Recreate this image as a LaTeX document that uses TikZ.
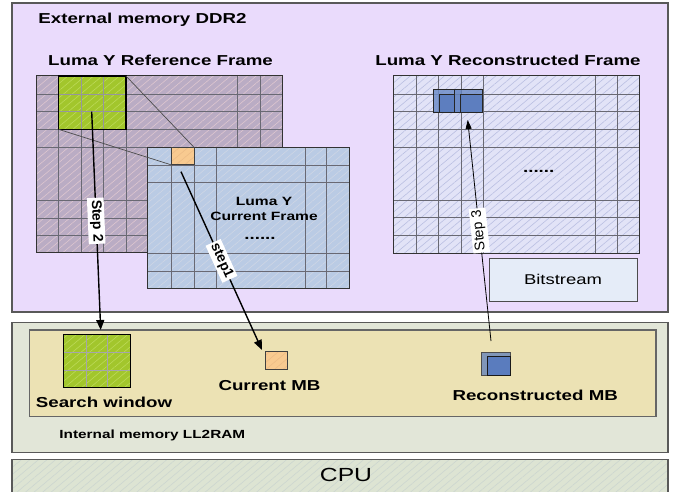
\documentclass[tikz,border=0pt]{standalone}
\usepackage{fontspec}
\setmainfont{Liberation Sans}[FakeStretch=1.3]
\newfontfamily\plainsf{Liberation Sans}
\usetikzlibrary{patterns.meta,arrows.meta}
\definecolor{purplebg}{RGB}{234,219,252}
\definecolor{refc}{RGB}{186,172,196}
\definecolor{refh}{RGB}{222,198,208}
\definecolor{curc}{RGB}{186,203,228}
\definecolor{curh}{RGB}{206,214,228}
\definecolor{recc}{RGB}{226,227,247}
\definecolor{rech}{RGB}{186,191,226}
\definecolor{greenc}{RGB}{162,198,44}
\definecolor{greenh}{RGB}{188,218,88}
\definecolor{orangec}{RGB}{248,202,144}
\definecolor{orangeh}{RGB}{236,188,134}
\definecolor{intc}{RGB}{226,230,216}
\definecolor{tanc}{RGB}{236,226,180}
\definecolor{cpuc}{RGB}{221,228,211}
\definecolor{cpuh}{RGB}{204,214,208}
\definecolor{bitc}{RGB}{229,236,248}
\definecolor{gridc}{RGB}{105,105,115}
\definecolor{iconback}{RGB}{112,142,200}
\definecolor{iconfront}{RGB}{90,124,190}
\definecolor{iconbackb}{RGB}{128,150,184}
\tikzset{
  hatch/.style={pattern={Lines[angle=40,distance=5.5pt,line width=0.6pt]},pattern color=#1},
  gridl/.style={draw=gridc,line width=0.9pt},
  frameb/.style={draw=black!80,line width=1pt},
  boxb/.style={draw=black!65,line width=1.1pt},
  lbl/.style={inner sep=0pt,anchor=base,font=\bfseries\fontsize{14.4}{16}\selectfont},
  steplbl/.style={fill=white,inner sep=2pt,font=\plainsf\bfseries\fontsize{14}{16}\selectfont},
  stepline/.style={line width=1.4pt,-{Triangle[length=10pt,width=8pt]}},
}
\begin{document}
\begin{tikzpicture}[x=1pt,y=-1pt]
\useasboundingbox (0,0) rectangle (681,492);
% external memory
\path[fill=purplebg,boxb] (12,3) rectangle (668,312);
\node[lbl] (ext) at (142.5,23.3) {External memory DDR2};
\node[lbl] (reft) at (160.5,66) {Luma Y Reference Frame};
\node[lbl] (rect) at (508,66) {Luma Y Reconstructed Frame};
% reference frame
\path[preaction={fill=refc},hatch=refh] (36,76) rectangle (282.3,253);
\foreach \x in {58.5,81,103.5,126,237.7,260} \draw[gridl] (\x,76) -- (\x,253);
\foreach \y in {94,111.7,129.3,147,200.7,218.3,235.7} \draw[gridl] (36,\y) -- (282.3,\y);
\draw[frameb] (36,76) rectangle (282.3,253);
% search area in reference frame
\path[preaction={fill=greenc},hatch=greenh] (58.5,76) rectangle (126,129.3);
\foreach \x in {81,103.5} \draw[draw=gridc!70,line width=0.8pt] (\x,76) -- (\x,129.3);
\foreach \y in {94,111.7} \draw[draw=gridc!70,line width=0.8pt] (58.5,\y) -- (126,\y);
\draw[black,line width=1.2pt] (58.5,76) rectangle (126,129.3);
\coordinate (gtr) at (126,76);
\coordinate (gbl) at (58.5,129.3);
% current frame
\path[preaction={fill=curc},hatch=curh] (147.3,147.3) rectangle (349,289);
\foreach \x in {171.7,194,216.3,305.7,326.7} \draw[gridl] (\x,147.3) -- (\x,289);
\foreach \y in {165,182.3,253.3,271.7} \draw[gridl] (147.3,\y) -- (349,\y);
\draw[frameb] (147.3,147.3) rectangle (349,289);
\path[preaction={fill=orangec},hatch=orangeh] (171.7,147.3) rectangle (194,165);
\draw[black!75,line width=1pt] (171.7,147.3) rectangle (194,165);
\coordinate (otr) at (194,147.3);
\coordinate (obl) at (171.7,165);
\draw[black!70,line width=0.7pt] (gtr) -- (otr);
\draw[black!70,line width=0.7pt] (gbl) -- (obl);
\node[lbl,font=\bfseries\fontsize{12}{14}\selectfont] (cur1) at (264,205.3) {Luma Y};
\node[lbl,font=\bfseries\fontsize{12}{14}\selectfont] (cur2) at (264,221) {Current Frame};
\node[lbl] (dots1) at (260,240) {......};
% reconstructed frame
\path[preaction={fill=recc},hatch=rech] (393.3,76) rectangle (639.3,253.3);
\foreach \x in {416,438.3,461,483.3,595,617.3} \draw[gridl] (\x,76) -- (\x,253.3);
\foreach \y in {94,111.7,129.3,147.7,200,217.7,235.7} \draw[gridl] (393.3,\y) -- (639.3,\y);
\draw[frameb] (393.3,76) rectangle (639.3,253.3);
\node[lbl] (dots2) at (538.7,172.3) {......};
\foreach \ix in {433.3,454.3}{
  \fill[iconback,opacity=0.85] (\ix,89.3) rectangle ++(28,23);
  \draw[black!85,line width=0.9pt] (\ix,89.3) rectangle ++(28,23);
  \fill[iconfront,opacity=0.9] (\ix+6,94.3) rectangle (\ix+28,112.3);
  \draw[black!85,line width=0.9pt] (\ix+6,94.3) rectangle (\ix+28,112.3);
}
% bitstream
\path[fill=bitc,draw=black!70,line width=1pt] (489.3,259) rectangle (637.3,301.7);
\node[lbl,font=\fontsize{14.2}{16}\selectfont] (bits) at (563,284.7) {Bitstream};
% internal memory
\path[fill=intc,boxb] (12,322.7) rectangle (668,452.3);
\path[fill=tanc,draw=black!60,line width=1.1pt] (29.3,330) rectangle (656,416.7);
\node[lbl,font=\bfseries\fontsize{11.8}{14}\selectfont] (intt) at (152.3,438.7) {Internal memory LL2RAM};
% search window
\path[preaction={fill=greenc},hatch=greenh] (63.3,334.3) rectangle (130.7,387.3);
\foreach \x in {86,107.7} \draw[draw=gridc!60,line width=0.9pt] (\x,334.3) -- (\x,387.3);
\foreach \y in {352.3,370} \draw[draw=gridc!60,line width=0.9pt] (63.3,\y) -- (130.7,\y);
\draw[black,line width=1.1pt] (63.3,334.3) rectangle (130.7,387.3);
\node[lbl] (sw) at (104,407.7) {Search window};
% current MB
\path[preaction={fill=orangec},hatch=orangeh] (265,351) rectangle (287.7,369);
\draw[black!75,line width=1pt] (265,351) rectangle (287.7,369);
\node[lbl] (cmb) at (269.5,390) {Current MB};
% reconstructed MB
\path[fill=iconbackb,draw=black!70,line width=0.9pt] (481.7,352.3) rectangle (510.7,375.7);
\path[fill=iconfront,draw=black!90,line width=1.1pt] (487.3,356.7) rectangle (510.7,375.7);
\node[lbl] (rmb) at (535.2,400.7) {Reconstructed MB};
% CPU
\path[preaction={fill=cpuc},hatch=cpuh,boxb] (12,459.3) rectangle (668,496);
\node[lbl,font=\fontsize{19}{21}\selectfont] (cpu) at (346,481) {CPU};
% arrows
\coordinate (s2a) at (91.7,111.7);
\coordinate (s2b) at (100.7,330);
\coordinate (s1a) at (181,171.7);
\coordinate (s1b) at (262,350);
\coordinate (s3a) at (491,341);
\coordinate (s3b) at (467.7,120);
\draw[stepline] (s2a) -- node[steplbl,rotate=-87.6] (st2) {Step 2} (s2b);
\draw[stepline] (s1a) -- node[steplbl,rotate=-65.6] (st1) {step1} (s1b);
\draw[line width=0.8pt,-{Triangle[length=9pt,width=6pt]}] (s3a) -- node[steplbl,font=\plainsf\fontsize{14}{16}\selectfont,rotate=96] (st3) {Step 3} (s3b);
\end{tikzpicture}
\end{document}
